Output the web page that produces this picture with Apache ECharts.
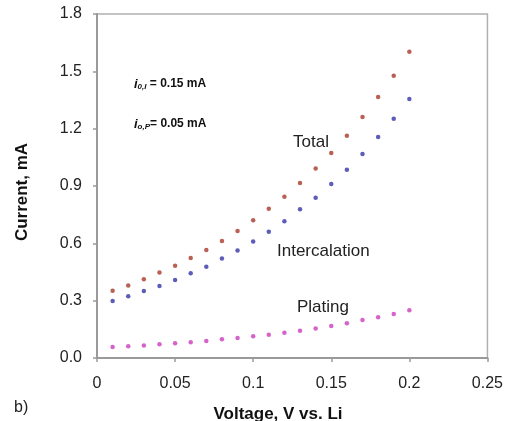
<!DOCTYPE html>
<html><head><meta charset="utf-8">
<script src="https://cdn.jsdelivr.net/npm/echarts@6/dist/echarts.min.js"></script>
<style>html,body{margin:0;padding:0;background:#fff}#c{width:506px;height:421px}</style>
</head><body><div id="c"></div>
<script>
const voltage = [0.01,0.02,0.03,0.04,0.05,0.06,0.07,0.08,0.09,0.10,0.11,0.12,0.13,0.14,0.15,0.16,0.17,0.18,0.19,0.20];
const totalCurrent = [0.352,0.380,0.412,0.448,0.483,0.523,0.565,0.612,0.665,0.721,0.781,0.844,0.916,0.991,1.073,1.163,1.261,1.366,1.477,1.603];
const intercalationCurrent = [0.298,0.323,0.351,0.377,0.408,0.443,0.478,0.520,0.562,0.609,0.661,0.715,0.778,0.839,0.911,0.985,1.068,1.157,1.252,1.355];
const platingCurrent = [0.058,0.061,0.066,0.072,0.077,0.082,0.089,0.098,0.105,0.114,0.122,0.132,0.143,0.155,0.167,0.182,0.199,0.213,0.230,0.250];

const pair = arr => voltage.map((v,i)=>[v,arr[i]]);
const font = 'Liberation Sans, Arial, sans-serif';
const chart = echarts.init(document.getElementById('c'), null, {renderer:'canvas'});
const axisLine = {show:true,lineStyle:{color:'#9a9a9a',width:2}};
const axisTick = {show:true,inside:false,length:4,lineStyle:{color:'#9a9a9a',width:1.5}};
const labelBase = {color:'#222',fontFamily:font,fontSize:16};
chart.setOption({
  animation:false,
  backgroundColor:'#fff',
  grid:{left:97,top:14,right:16,bottom:63,show:true,borderColor:'#b0b0b0',borderWidth:1.5,containLabel:false},
  xAxis:{type:'value',min:0,max:0.25,interval:0.05,axisLine,axisTick,splitLine:{show:false},
    axisLabel:Object.assign({},labelBase,{margin:18,formatter:v=>String(+v.toFixed(2))})},
  yAxis:{type:'value',min:0,max:1.8,interval:0.3,axisLine,axisTick,splitLine:{show:false},
    axisLabel:Object.assign({},labelBase,{margin:15,formatter:v=>v.toFixed(1)})},
  series:[
    {name:'Total',type:'scatter',data:pair(totalCurrent),symbol:'circle',symbolSize:4.5,itemStyle:{color:'#a8392a'}},
    {name:'Intercalation',type:'scatter',data:pair(intercalationCurrent),symbol:'circle',symbolSize:4.5,itemStyle:{color:'#3535a8'}},
    {name:'Plating',type:'scatter',data:pair(platingCurrent),symbol:'circle',symbolSize:4.5,itemStyle:{color:'#cc3cbc'}}
  ],
  graphic:[
    {type:'text',x:22,y:192,rotation:Math.PI/2,style:{text:'Current, mA',font:'bold 17px '+font,fill:'#111',align:'center',verticalAlign:'middle'}},
    {type:'text',x:278,y:414,style:{text:'Voltage, V vs. Li',font:'bold 17px '+font,fill:'#111',align:'center',verticalAlign:'middle'}},
    {type:'text',x:14,y:408,style:{text:'b)',font:'16px '+font,fill:'#222',verticalAlign:'middle'}},
    {type:'text',x:293,y:142,style:{text:'Total',font:'17px '+font,fill:'#222',verticalAlign:'middle'}},
    {type:'text',x:277,y:251,style:{text:'Intercalation',font:'17px '+font,fill:'#222',verticalAlign:'middle'}},
    {type:'text',x:297,y:307,style:{text:'Plating',font:'17px '+font,fill:'#222',verticalAlign:'middle'}},
    {type:'text',x:134,y:84,style:{
      text:'{i|i}{s|0,I}{b| = 0.15 mA}',verticalAlign:'middle',
      rich:{i:{font:'italic bold 13px '+font,fill:'#111'},s:{font:'italic bold 8px '+font,fill:'#111',padding:[6,0,0,0]},b:{font:'bold 12px '+font,fill:'#111'}}}},
    {type:'text',x:134,y:124,style:{
      text:'{i|i}{s|o,P}{b|= 0.05 mA}',verticalAlign:'middle',
      rich:{i:{font:'italic bold 13px '+font,fill:'#111'},s:{font:'italic bold 8px '+font,fill:'#111',padding:[6,0,0,0]},b:{font:'bold 12px '+font,fill:'#111'}}}}
  ]
});
</script></body></html>
